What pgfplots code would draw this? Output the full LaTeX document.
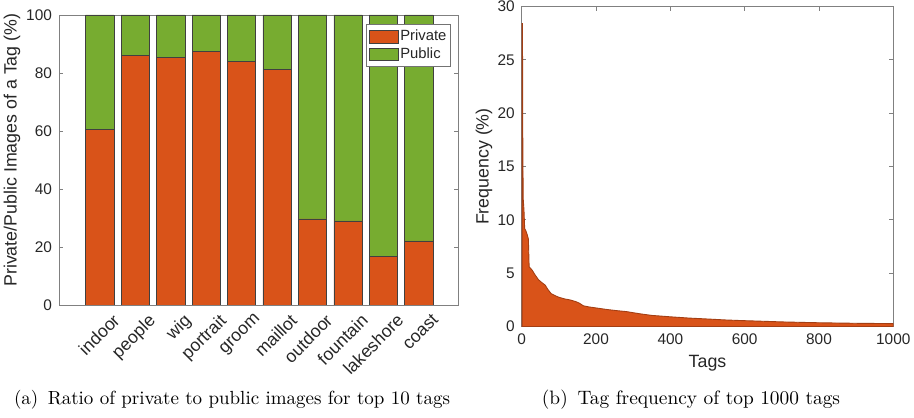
\documentclass[border=0pt]{standalone}
\usepackage{fontspec}
\usepackage{pgfplots}
\pgfplotsset{compat=1.18}
\newfontfamily\axfont{Liberation Sans}
\definecolor{morange}{RGB}{217,83,25}
\definecolor{mgreen}{RGB}{119,172,48}
\definecolor{mtext}{RGB}{38,38,38}
\definecolor{maxis}{RGB}{128,128,128}
\pgfplotsset{
  mstyle/.style={
    scale only axis,
    axis line style={maxis, line width=0.45pt},
    tick style={maxis, line width=0.45pt},
    tick align=inside,
    major tick length=2pt,
    ticklabel style={font=\axfont\fontsize{7.7}{9}\selectfont, text=mtext},
    label style={font=\axfont\fontsize{8.9}{10}\selectfont, text=mtext},
    /pgf/number format/assume math mode=true,
    /pgf/number format/1000 sep={},
  }
}
\begin{document}
\begin{tikzpicture}
\useasboundingbox (0,0) rectangle (457pt,208.5pt);
\begin{axis}[
  mstyle,
  at={(29.5pt,56pt)}, anchor=south west,
  width=199.5pt, height=145pt,
  xmin=-0.15, xmax=11.1, ymin=0, ymax=100,
  ybar stacked, bar width=0.8,
  xtick={1,...,10},
  xticklabels={indoor,people,wig,portrait,groom,maillot,outdoor,fountain,lakeshore,coast},
  xticklabel style={font=\axfont\fontsize{8.8}{10}\selectfont, rotate=45, anchor=north east, xshift=5pt, yshift=-3.5pt},
  x tick style={draw=none},
  ytick={0,20,...,100},
  ylabel={Private/Public Images of a Tag (\%)},
  ylabel style={at={(axis description cs:-0.1178,0.534)}, anchor=center},
  legend style={at={(rel axis cs:0.982,0.968)}, anchor=north east, draw=black!55,
    font=\axfont\fontsize{7.4}{8.5}\selectfont, text=mtext, inner xsep=1pt, inner ysep=1.2pt, row sep=-1.2pt,
    cells={anchor=west}, nodes={inner xsep=1pt, inner ysep=1.5pt}},
]
\addplot[fill=morange, draw=black!75, line width=0.35pt,
  legend image code/.code={\draw[fill=morange, draw=black!75] (0pt,-3.2pt) rectangle (14.5pt,3.2pt);}]
  coordinates {(1,60.5) (2,86.0) (3,85.3) (4,87.4) (5,83.9) (6,81.1) (7,29.7) (8,29.0) (9,16.8) (10,22.1)};
\addplot[fill=mgreen, draw=black!75, line width=0.35pt,
  legend image code/.code={\draw[fill=mgreen, draw=black!75] (0pt,-3.2pt) rectangle (14.5pt,3.2pt);}]
  coordinates {(1,39.5) (2,14.0) (3,14.7) (4,12.6) (5,16.1) (6,18.9) (7,70.3) (8,71.0) (9,83.2) (10,77.9)};
\legend{Private,Public}
\end{axis}
\begin{axis}[
  mstyle,
  at={(260.85pt,45.2pt)}, anchor=south west,
  width=185.8pt, height=160pt,
  xmin=0, xmax=1000, ymin=0, ymax=30,
  xtick={0,200,...,1000}, ytick={0,5,...,30},
  xlabel={Tags}, ylabel={Frequency (\%)},
  xlabel style={at={(axis description cs:0.5,-0.114)}, anchor=center},
  ylabel style={at={(axis description cs:-0.1015,0.5)}, anchor=center},
]
\addplot[fill=morange, draw=morange!75!black, line width=0.45pt] coordinates {
(1,28.4) (2,28.4) (3,17.0) (4,12.0) (6,11.0) (8,9.2) (11,9.0) (15,8.6) (18,8.2) (20,5.6)
(28,5.3) (35,4.9) (45,4.4) (55,4.1) (63,3.9) (70,3.5) (79,3.1) (90,2.9) (100,2.75) (115,2.6)
(130,2.5) (145,2.35) (155,2.2) (166,1.95) (180,1.85) (202,1.74) (230,1.6) (255,1.5) (283,1.4)
(318,1.2) (350,1.05) (399,0.92) (450,0.8) (507,0.7) (550,0.62) (596,0.56) (650,0.5) (700,0.44)
(750,0.4) (800,0.36) (900,0.31) (1000,0.28)} \closedcycle;
\end{axis}
\node[font=\fontsize{9.5}{11}\selectfont] at (116pt,8.5pt) {(a)\enspace Ratio of private to public images for top 10 tags};
\node[font=\fontsize{9.7}{11}\selectfont] at (345.5pt,8.5pt) {(b)\enspace Tag frequency of top 1000 tags};
\end{tikzpicture}
\end{document}
